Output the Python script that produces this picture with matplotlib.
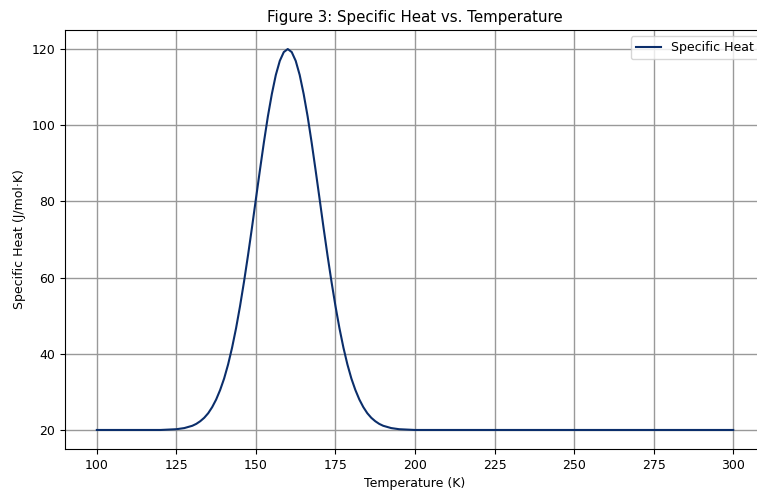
import matplotlib.pyplot as plt

# Values (dense where it bends)
temperature = [100, 110, 120, 122.5, 125, 127.5, 130, 131.25, 132.5, 133.75, 135, 136.25,
               137.5, 138.75, 140, 141.25, 142.5, 143.75, 145, 146.25, 147.5, 148.75,
               150, 151.25, 152.5, 153.75, 155, 156.25, 157.5, 158.75, 160, 161.25,
               162.5, 163.75, 165, 166.25, 167.5, 168.75, 170, 171.25, 172.5, 173.75,
               175, 176.25, 177.5, 178.75, 180, 181.25, 182.5, 183.75, 185, 186.25,
               187.5, 188.75, 190, 192.5, 195, 197.5, 200, 210, 250, 300]
specific_heat = [20.0, 20.0, 20.0, 20.1, 20.2, 20.5, 21.1, 21.6, 22.3, 23.2, 24.4, 26.0,
                 28.0, 30.5, 33.5, 37.2, 41.6, 46.7, 52.5, 58.9, 65.8, 73.1,
                 80.7, 88.2, 95.5, 102.3, 108.2, 113.2, 116.9, 119.2, 120.0, 119.2,
                 116.9, 113.2, 108.2, 102.3, 95.5, 88.2, 80.7, 73.1, 65.8, 58.9,
                 52.5, 46.7, 41.6, 37.2, 33.5, 30.5, 28.0, 26.0, 24.4, 23.2,
                 22.3, 21.6, 21.1, 20.5, 20.2, 20.1, 20.0, 20.0, 20.0, 20.0]
xticks = [100, 125, 150, 175, 200, 225, 250, 275, 300]
yticks = [20, 40, 60, 80, 100, 120]

fig = plt.figure(figsize=(7.57, 4.91), dpi=100)
ax = fig.add_axes([0.0859, 0.0855, 0.9247, 0.8534])

ax.plot(temperature, specific_heat, color='#0b2e6b', linewidth=1.5, label='Specific Heat')
ax.set_xlim(90, 310)
ax.set_ylim(15, 125)
ax.set_xticks(xticks)
ax.set_yticks(yticks)
ax.tick_params(labelsize=9)
ax.set_xlabel('Temperature (K)', fontsize=9)
ax.set_ylabel('Specific Heat (J/mol·K)', fontsize=9)
ax.set_title('Figure 3: Specific Heat vs. Temperature', fontsize=10.8)
ax.grid(True, color='#999999', linewidth=1.0)
ax.legend(loc='upper right', fontsize=9)

fig.savefig('out.png', dpi=100)
